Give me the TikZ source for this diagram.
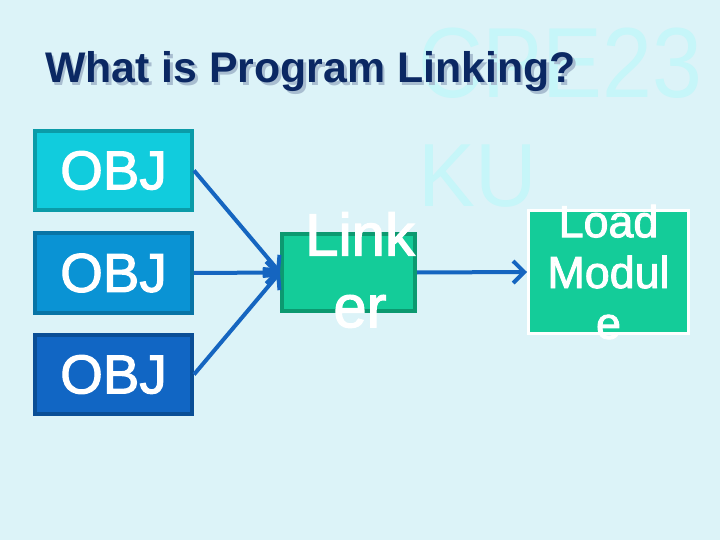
\documentclass[tikz,border=0pt]{standalone}
\usepackage{fontspec}
\setmainfont{Liberation Sans}
\newfontfamily\heavyish[FakeBold=2]{Liberation Sans}
\usetikzlibrary{arrows.meta}
\definecolor{bgc}{HTML}{DCF3F8}
\definecolor{wmc}{HTML}{C6F6F9}
\definecolor{titlec}{HTML}{0B2863}
\definecolor{shadowc}{HTML}{A8BDD0}
\definecolor{objAfill}{HTML}{11CCDD}
\definecolor{objAdraw}{HTML}{0B9BA8}
\definecolor{objBfill}{HTML}{0A93D4}
\definecolor{objBdraw}{HTML}{0874A6}
\definecolor{objCfill}{HTML}{1166C4}
\definecolor{objCdraw}{HTML}{0A4E96}
\definecolor{linkfill}{HTML}{14CC99}
\definecolor{linkdraw}{HTML}{0C9970}
\definecolor{arrowc}{HTML}{1565C0}
\tikzset{
  objbox/.style={rectangle, line width=4bp, minimum width=157bp, minimum height=79bp, inner sep=0pt,
    text=white, font=\heavyish\fontsize{55}{60}\selectfont},
  plainbox/.style={rectangle, inner sep=0pt},
  boxtext/.style={text=white, align=center, inner sep=0pt},
  conn/.style={draw=arrowc, line width=4bp, -{Straight Barb[length=11bp, width=22bp, line width=4bp]}},
}
\begin{document}
\begin{tikzpicture}[x=1bp,y=-1bp]
\fill[bgc] (0,0) rectangle (720,540);
\useasboundingbox (0,0) rectangle (720,540);
% watermark
\node[anchor=base west, text=wmc, font=\fontsize{100}{100}\selectfont, xscale=0.9, inner sep=0pt] (wm1) at (418,98) {CPE23};
\node[anchor=base west, text=wmc, font=\fontsize{90}{90}\selectfont, xscale=0.95, inner sep=0pt] (wm2) at (418,207) {KU};
% title
\node[anchor=base west, text=shadowc, font=\bfseries\fontsize{43}{50}\selectfont, inner sep=0pt] (titlesh) at (47.5,85.5) {What is Program Linking?};
\node[anchor=base west, text=titlec, font=\bfseries\fontsize{43}{50}\selectfont, inner sep=0pt] (title) at (45,83) {What is Program Linking?};
% OBJ boxes
\node[objbox, fill=objAfill, draw=objAdraw] (obj1) at (113.5,170.5) {OBJ};
\node[objbox, fill=objBfill, draw=objBdraw] (obj2) at (113.5,273) {OBJ};
\node[objbox, fill=objCfill, draw=objCdraw] (obj3) at (113.5,374.5) {OBJ};
% linker
\node[plainbox, fill=linkfill, draw=linkdraw, line width=4bp, minimum width=133bp, minimum height=77bp] (linker) at (348.5,272.5) {};
\node[boxtext, font=\heavyish\fontsize{60}{72}\selectfont] (linkertext) at (360,270) {Link\\er};
% load module
\node[plainbox, fill=linkfill, draw=white, line width=3bp, minimum width=160bp, minimum height=123bp] (load) at (608.5,272) {};
\node[boxtext, font=\heavyish\fontsize{45}{51}\selectfont] (loadtext) at (load.center) {Load\\Modul\\e};
% connectors
\draw[conn] (obj1.east) -- (linker.west);
\draw[conn] (obj2.east) -- (linker.west);
\draw[conn] (obj3.east) -- (linker.west);
\draw[conn] (linker.east) -- (load.west);
\end{tikzpicture}
\end{document}
